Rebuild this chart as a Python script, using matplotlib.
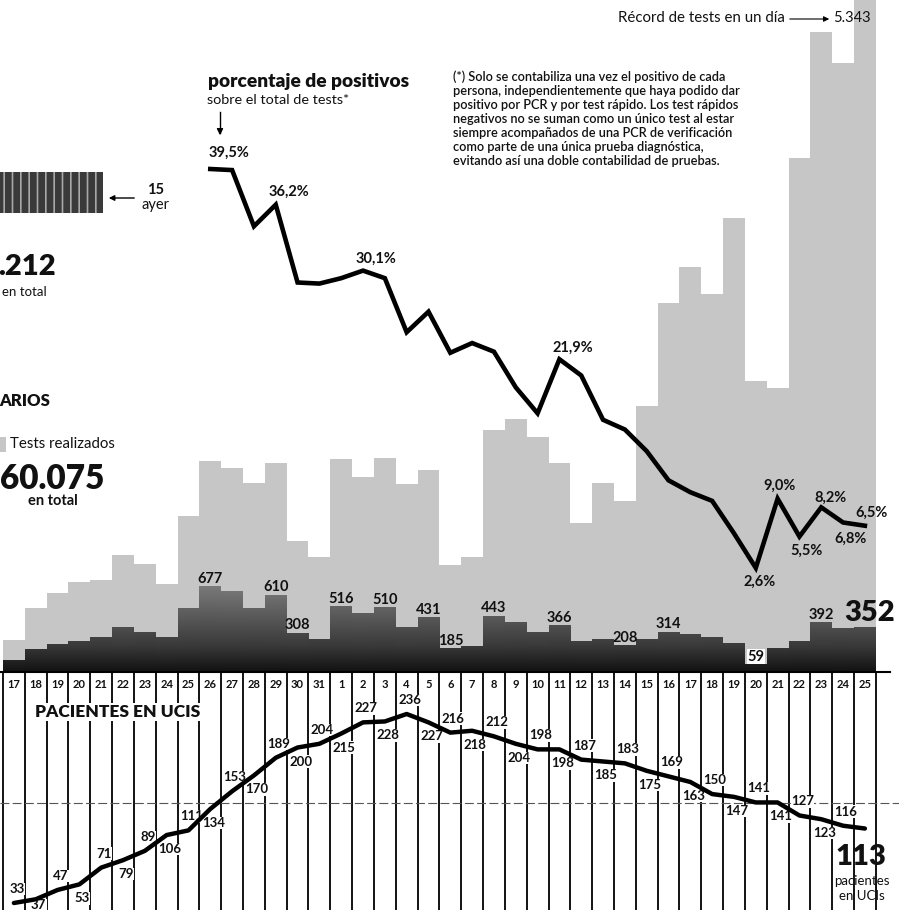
import numpy as np
import matplotlib
matplotlib.use("Agg")
import matplotlib.pyplot as plt
from matplotlib import transforms
from matplotlib.patches import Rectangle
from matplotlib.colors import LinearSegmentedColormap

plt.rcParams['font.family'] = ['Lato', 'DejaVu Sans']
plt.rcParams['hatch.linewidth'] = 1.2

W, H = 899, 910

## datos ##

dias = ["17", "18", "19", "20", "21", "22", "23", "24", "25", "26", "27", "28", "29", "30", "31",
        "1", "2", "3", "4", "5", "6", "7", "8", "9", "10", "11", "12", "13", "14", "15",
        "16", "17", "18", "19", "20", "21", "22", "23", "24", "25"]

tests = [250, 510, 630, 710, 730, 930, 860, 700, 1240, 1670,
         1620, 1500, 1660, 1040, 910, 1690, 1550, 1700, 1490, 1600,
         850, 910, 1920, 2010, 1860, 1660, 1180, 1500, 1360, 2110,
         2930, 3210, 3000, 3600, 2310, 2250, 4080, 5080, 4830, 5343]

positivos = [95, 175, 215, 240, 270, 355, 310, 275, 505, 677,
             640, 505, 610, 308, 255, 516, 465, 510, 355, 431,
             185, 200, 443, 390, 315, 366, 245, 260, 208, 255,
             314, 300, 275, 230, 59, 190, 240, 392, 345, 352]

# porcentaje de positivos, del 26 de marzo al 25 de abril
porcentaje = [39.5, 39.4, 34.2, 36.2, 29.0, 28.9, 29.4, 30.1, 29.4, 24.4,
              26.3, 22.5, 23.4, 22.6, 19.3, 16.9, 21.9, 20.4, 16.3, 15.4,
              13.4, 10.7, 9.6, 8.8, 5.8, 2.6, 9.0, 5.5, 8.2, 6.8, 6.5]
pct_inicio = 9
pct_etiquetas = {9: "39,5%", 12: "36,2%", 16: "30,1%", 25: "21,9%", 34: "2,6%",
                 35: "9,0%", 36: "5,5%", 37: "8,2%", 38: "6,8%", 39: "6,5%"}

uci = [33, 37, 47, 53, 71, 79, 89, 106, 111, 134,
       153, 170, 189, 200, 204, 215, 227, 228, 236, 227,
       216, 218, 212, 204, 198, 198, 187, 185, 183, 175,
       169, 163, 150, 147, 141, 141, 127, 123, 116, 113]

etiquetas_pos = [9, 12, 13, 15, 17, 19, 20, 22, 25, 28, 30, 34, 37]

## figura ##

fig = plt.figure(figsize=(W / 100, H / 100), dpi=100)
fig.patch.set_facecolor("white")

colw = 21.82
x0 = -0.5 - 3 / colw
x1 = x0 + W / colw
n = len(dias)
xs = np.arange(n)

def fx(x):
    return x / W

def fy(y):
    return 1 - y / H

base = 672

# barras de tests y positivos
axb = fig.add_axes([0, fy(base), 1, base / H])
axb.bar(xs, tests, width=1.0, color="#c6c6c6", edgecolor="none", zorder=1)
cmap = LinearSegmentedColormap.from_list("pos", [(0, "#121212"), (0.3, "#3a3a3a"), (1, "#7c7c7c")])
for i, v in enumerate(positivos):
    grad = np.linspace(0, v, 60).reshape(-1, 1)
    axb.imshow(grad, extent=(i - 0.5, i + 0.5, 0, v), origin="lower", aspect="auto",
               cmap=cmap, vmin=0, vmax=700, zorder=2)
ytop = 5330
axb.set_xlim(x0, x1)
axb.set_ylim(0, ytop)
axb.axis("off")

for i in etiquetas_pos:
    bb = dict(facecolor="white", edgecolor="none", pad=0.5) if positivos[i] == 59 else None
    axb.annotate(str(positivos[i]), (i, positivos[i]), xytext=(0, 1), textcoords="offset pixels",
                 ha="center", va="bottom", fontsize=10.5, fontweight="bold", color="#111111",
                 bbox=bb, zorder=5)
axb.annotate(str(positivos[-1]), (n - 1, positivos[-1]), xytext=(5, 2), textcoords="offset pixels",
             ha="center", va="bottom", fontsize=21, fontweight="heavy", color="#111111", zorder=5)

# línea de porcentaje
axp = fig.add_axes([0, 0, 1, 1])
axp.patch.set_visible(False)
k = 10.81
axp.set_xlim(x0, x1)
axp.set_ylim(39.5 - (H - 169) / k, 39.5 + 169 / k)
xp = np.arange(pct_inicio, pct_inicio + len(porcentaje))
axp.plot(xp, porcentaje, color="black", lw=3.3, solid_joinstyle="miter", zorder=6)
offs = {9: (19, 16), 12: (13, 13), 16: (13, 12), 25: (13, 11), 34: (4, -14),
        35: (2, 13), 36: (7, -14), 37: (9, 10), 38: (7, -16), 39: (7, 13)}
for i, t in pct_etiquetas.items():
    axp.annotate(t, (i, porcentaje[i - pct_inicio]), xytext=offs[i], textcoords="offset pixels",
                 ha="center", va="center", fontsize=10.5, fontweight="bold", color="#111111", zorder=7)
axp.axis("off")

# pacientes en UCI
uh = H - base
axu = fig.add_axes([0, 0, 1, uh / H])
axu.patch.set_visible(False)
ku = 0.931
axu.set_xlim(x0, x1)
axu.set_ylim(33 - (H - 903) / ku, 33 + (903 - base) / ku)
for b in range(n + 1):
    axu.axvline(b - 0.5, color="black", lw=1.3, zorder=1)
axu.axhline(140, color="#555555", lw=0.8, ls=(0, (8, 3)), zorder=1)
axu.plot(xs, uci, color="black", lw=3.2, solid_joinstyle="round", solid_capstyle="round", zorder=4)
for i, v in enumerate(uci[:-1]):
    dy = 14 if i % 2 == 0 else -14
    if i == 1:
        dy = -6
    axu.annotate(str(v), (i, v), xytext=(3, dy), textcoords="offset pixels", ha="center", va="center",
                 fontsize=9.5, fontweight="bold", color="#111111", zorder=3,
                 bbox=dict(facecolor="white", edgecolor="none", pad=0.2))
axu.axis("off")

# tira de fechas
tr = transforms.blended_transform_factory(axu.transData, fig.transFigure)
for i, d in enumerate(dias):
    axu.text(i, fy(684), d, transform=tr, ha="center", va="center", fontsize=8,
             fontweight="bold", color="#111111", zorder=5)
fig.add_artist(plt.Line2D([0, fx(890)], [fy(base), fy(base)], color="black", lw=1.5))

## textos ##

def txt(x, y, s, **kw):
    kw.setdefault("va", "center")
    kw.setdefault("color", "#111111")
    fig.text(fx(x), fy(y), s, **kw)

txt(208, 82, "porcentaje de positivos", fontsize=13.8, fontweight="heavy")
txt(207, 100, "sobre el total de tests*", fontsize=10.4)
fig.add_artist(plt.Line2D([fx(220), fx(220)], [fy(112), fy(133)], color="black", lw=1))
axp.annotate("", xy=(fx(220), fy(138)), xytext=(fx(220), fy(126)), xycoords="figure fraction",
             arrowprops=dict(arrowstyle="-|>", color="black", lw=1, mutation_scale=9))

nota = ("(*) Solo se contabiliza una vez el positivo de cada\n"
        "persona, independientemente que haya podido dar\n"
        "positivo por PCR y por test rápido. Los test rápidos\n"
        "negativos no se suman como un único test al estar\n"
        "siempre acompañados de una PCR de verificación\n"
        "como parte de una única prueba diagnóstica,\n"
        "evitando así una doble contabilidad de pruebas.")
txt(453, 70, nota, fontsize=9.2, va="top", linespacing=1.2, fontweight="semibold")

txt(785, 18, "Récord de tests en un día", fontsize=10.8, ha="right")
axp.annotate("", xy=(fx(832), fy(19)), xytext=(fx(787), fy(19)), xycoords="figure fraction",
             arrowprops=dict(arrowstyle="-|>", color="black", lw=0.8, mutation_scale=8))
txt(833, 18, "5.343", fontsize=10.5)

# bloque superior izquierdo
fig.add_artist(Rectangle((fx(-5), fy(213)), fx(108), 41 / H, facecolor="#3a3a3a",
                         edgecolor="#a8a8a8", hatch="||", lw=0))
axp.annotate("", xy=(fx(106), fy(198)), xytext=(fx(137), fy(198)), xycoords="figure fraction",
             arrowprops=dict(arrowstyle="-|>", color="black", lw=1, mutation_scale=8))
txt(156, 190, "15", fontsize=10.5, fontweight="bold", ha="center")
txt(156, 205, "ayer", fontsize=10.5, ha="center")
txt(56, 267, ".212", fontsize=21, fontweight="heavy", ha="right")
txt(47, 292, "en total", fontsize=9.5, ha="right")

txt(50, 401, "ARIOS", fontsize=12, fontweight="heavy", ha="right")
fig.add_artist(Rectangle((fx(0), fy(452)), fx(6), 15 / H, facecolor="#c6c6c6", edgecolor="none"))
txt(10, 444, "Tests realizados", fontsize=10.8)
txt(104, 479, "60.075", fontsize=24, fontweight="heavy", ha="right")
txt(53, 501, "en total", fontsize=10.5, fontweight="bold", ha="center")

txt(35, 712, "PACIENTES EN UCIS", fontsize=12.5, fontweight="heavy",
    bbox=dict(facecolor="white", edgecolor="none", pad=0.5))
txt(861, 857, "113", fontsize=21, fontweight="heavy", ha="center")
txt(862, 881, "pacientes", fontsize=9.5, ha="center")
txt(862, 896, "en UCIs", fontsize=9.5, ha="center")

fig.savefig("out.png", dpi=100, facecolor="white")
